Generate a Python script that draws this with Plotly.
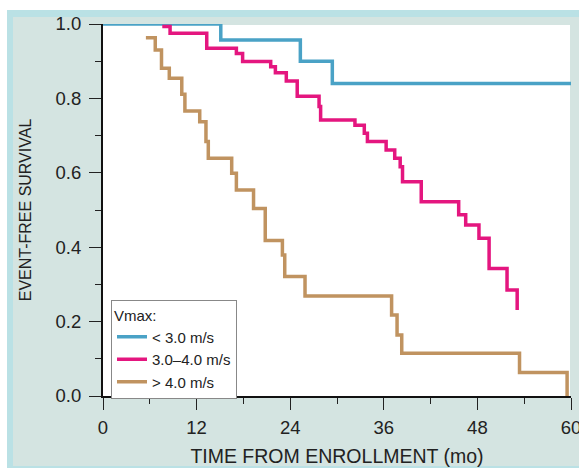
import plotly.graph_objects as go

# ---- data ----
low_t = [0, 15.1, 25.3, 29.4, 60]
low_s = [1.0, 0.957, 0.90, 0.84, 0.84]

mid_t = [7.6, 8.6, 13.3, 17.1, 17.9, 21.5, 22.1, 23.5, 24.9, 27.7, 27.9, 32.3, 33.5, 33.9,
         36.3, 37.4, 38.1, 38.4, 40.8, 45.6, 46.5, 48.2, 49.5, 51.8, 53.1]
mid_s = [0.993, 0.975, 0.935, 0.921, 0.899, 0.885, 0.869, 0.847, 0.806, 0.778, 0.742, 0.728,
         0.706, 0.684, 0.661, 0.639, 0.616, 0.576, 0.522, 0.487, 0.46, 0.424, 0.343, 0.285, 0.231]

high_t = [5.5, 6.7, 7.5, 8.5, 10.1, 10.5, 12.4, 13.2, 13.5, 16.5, 17.1, 19.3, 20.8, 23.0,
          23.3, 25.9, 37.0, 37.7, 38.3, 53.4, 59.5]
high_s = [0.963, 0.930, 0.881, 0.854, 0.811, 0.766, 0.737, 0.684, 0.639, 0.599, 0.554, 0.504,
          0.418, 0.379, 0.321, 0.269, 0.218, 0.164, 0.115, 0.063, 0.0]

series_names = ["< 3.0 m/s", "3.0\u20134.0 m/s", "> 4.0 m/s"]
colors = ["#4aa2c6", "#e4167f", "#c09360"]

x_ticks = [0, 12, 24, 36, 48, 60]
y_ticks = [0.0, 0.2, 0.4, 0.6, 0.8, 1.0]

W, H = 579, 468
L, R, T, B = 103, 8, 24, 72
pw, ph = W - L - R, H - T - B

def px_x(p):
    return (p - L) / pw

def px_y(p):
    return (H - B - p) / ph

fig = go.Figure()
for (t, s), name, c in zip([(low_t, low_s), (mid_t, mid_s), (high_t, high_s)], series_names, colors):
    fig.add_trace(go.Scatter(x=t, y=s, mode="lines", name=name,
                             line=dict(color=c, width=3.5, shape="hv"), cliponaxis=False))

font = "Liberation Sans, Arial, sans-serif"
fig.update_layout(
    width=W, height=H,
    margin=dict(l=L, r=R, t=T, b=B, autoexpand=False),
    paper_bgcolor="white",
    plot_bgcolor="rgba(0,0,0,0)",
    font=dict(family=font, size=18.5, color="#222"),
    shapes=[
        dict(type="rect", xref="paper", yref="paper", layer="below",
             x0=px_x(7), x1=px_x(W), y0=px_y(H), y1=px_y(10),
             fillcolor="#bae1e5", line=dict(width=0)),
        dict(type="rect", xref="paper", yref="paper", layer="below",
             x0=px_x(13), x1=px_x(W), y0=px_y(466), y1=px_y(17),
             fillcolor="#d4e4e1", line=dict(width=0)),
        dict(type="rect", xref="paper", yref="paper", layer="below",
             x0=0, x1=px_x(570), y0=0, y1=px_y(25),
             fillcolor="white", line=dict(width=0)),
    ],
    xaxis=dict(range=[0, 60], tickvals=x_ticks, ticks="outside", ticklen=12, tickwidth=1.2,
               tickcolor="#222", showline=True, linecolor="#111", linewidth=2, automargin=False,
               showgrid=False, zeroline=False, ticklabelstandoff=2, ticklabeloverflow="allow",
               minor=dict(dtick=6, ticks="outside", ticklen=6, tickcolor="#222", tickwidth=1.2, showgrid=False),
               title=dict(text="TIME FROM ENROLLMENT (mo)", font=dict(size=19.5), standoff=12)),
    yaxis=dict(range=[0, 1.0], tickvals=y_ticks, tickformat=".1f", ticks="outside", ticklen=12,
               tickwidth=1.2, tickcolor="#222", showline=True, linecolor="#111", linewidth=2, automargin=False,
               showgrid=False, zeroline=False, ticklabelstandoff=4,
               minor=dict(dtick=0.1, ticks="outside", ticklen=6, tickcolor="#222", tickwidth=1.2, showgrid=False),
               title=dict(text="EVENT-FREE SURVIVAL", font=dict(size=16), standoff=20)),
    legend=dict(x=px_x(111), y=px_y(300), xanchor="left", yanchor="top",
                bgcolor="white", bordercolor="#888", borderwidth=1,
                font=dict(size=15, color="#222"), itemwidth=30, tracegroupgap=0,
                title=dict(text="Vmax:", font=dict(size=15, color="#222"))),
    showlegend=True,
)

fig.write_html("out.html", config={"displayModeBar": False},
               post_script="document.body.style.margin='0';document.body.style.overflow='hidden';")
